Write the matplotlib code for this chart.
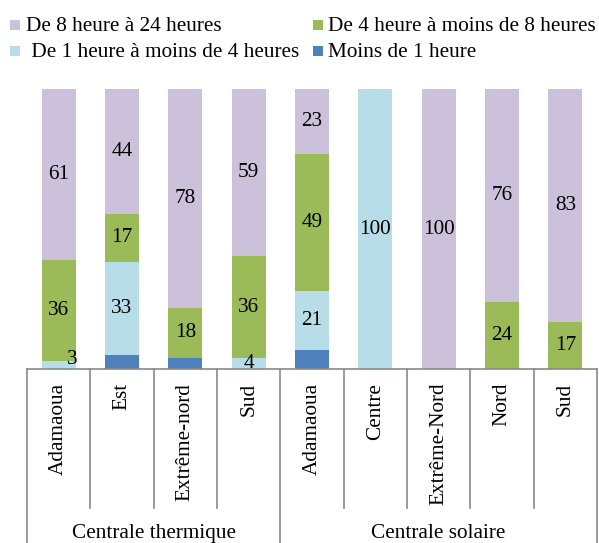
import matplotlib
matplotlib.use('Agg')
import matplotlib.pyplot as plt
from matplotlib.patches import Rectangle
import numpy as np

PURPLE = '#CCC1DA'
GREEN = '#9BBB59'
LBLUE = '#B7DEE8'
DBLUE = '#4F81BD'
GRAY = '#898989'

plt.rcParams['font.family'] = ['Liberation Serif', 'DejaVu Serif']

regions = ['Adamaoua', 'Est', 'Extrême-nord', 'Sud',
           'Adamaoua', 'Centre', 'Extrême-Nord', 'Nord', 'Sud']
groups = ['Centrale thermique', 'Centrale solaire']
group_sizes = [4, 5]

moins_1h = [0, 5, 4, 0, 7, 0, 0, 0, 0]
de_1_4h = [3, 33, 0, 4, 21, 100, 0, 0, 0]
de_4_8h = [36, 17, 18, 36, 49, 0, 0, 24, 17]
de_8_24h = [61, 44, 78, 59, 23, 0, 100, 76, 83]

series = [
    ('Moins de 1 heure', moins_1h, DBLUE, False),
    (' De 1 heure à moins de 4 heures', de_1_4h, LBLUE, True),
    ('De 4 heure à moins de 8 heures', de_4_8h, GREEN, True),
    ('De 8 heure à 24 heures', de_8_24h, PURPLE, True),
]

W, H = 599, 543
fig = plt.figure(figsize=(W / 100, H / 100), dpi=100)
ax = fig.add_axes([27 / W, 1 - 369.3 / H, 570 / W, 280 / H])

raw = np.array([s[1] for s in series], dtype=float)
totals = raw.sum(axis=0)
pct = raw / totals * 100
x = np.arange(len(regions))
bottom = np.zeros(len(regions))
FS = 15.3
for (name, vals, color, labelled), p in zip(series, pct):
    ax.bar(x, p, 0.54, bottom=bottom, color=color, linewidth=0)
    if labelled:
        for i, v in enumerate(vals):
            if v > 0:
                xi = x[i] + (0.22 if v < 4 and name.startswith(' De 1') else 0)
                yi = bottom[i] + p[i] / 2 + (2 if v < 4 else 0)
                ax.text(xi, yi, str(v), ha='center', va='center',
                        fontsize=FS, color='black')
    bottom += p

ax.set_xlim(-0.5, len(regions) - 0.5)
ax.set_ylim(0, 100)
for s in ['left', 'right', 'top']:
    ax.spines[s].set_visible(False)
ax.spines['bottom'].set_color(GRAY)
ax.spines['bottom'].set_linewidth(1.2)
ax.set_xticks([])
ax.set_yticks([])

# category labels and dividers
for i, r in enumerate(regions):
    ax.text(x[i], -0.048, r, rotation=90, ha='center', va='top',
            fontsize=FS, transform=ax.get_xaxis_transform())
trans = ax.get_xaxis_transform()
edges = np.cumsum([0] + group_sizes) - 0.5
for b in np.arange(-0.5, len(regions), 1.0):
    y_end = -0.62 if b in edges else -0.495
    ax.plot([b, b], [0, y_end], color=GRAY, lw=1.2, transform=trans,
            clip_on=False)
for g, start, n in zip(groups, edges[:-1], group_sizes):
    ax.text(start + n / 2, -0.585, g, ha='center', va='center',
            fontsize=FS, transform=trans)

# legend
legend_items = [
    ('De 8 heure à 24 heures', PURPLE, 10, 26, 30.7),
    ('De 4 heure à moins de 8 heures', GREEN, 313, 328, 30.7),
    (' De 1 heure à moins de 4 heures', LBLUE, 10, 26, 56.7),
    ('Moins de 1 heure', DBLUE, 313, 328, 56.7),
]
for label, color, mx, tx, base in legend_items:
    fig.patches.append(Rectangle((mx / W, 1 - (base - 1) / H), 10 / W, 10 / H,
                                 transform=fig.transFigure, color=color,
                                 linewidth=0))
    fig.text(tx / W, 1 - base / H, label, fontsize=FS, va='baseline',
             ha='left')

fig.savefig('out.png', dpi=100)
